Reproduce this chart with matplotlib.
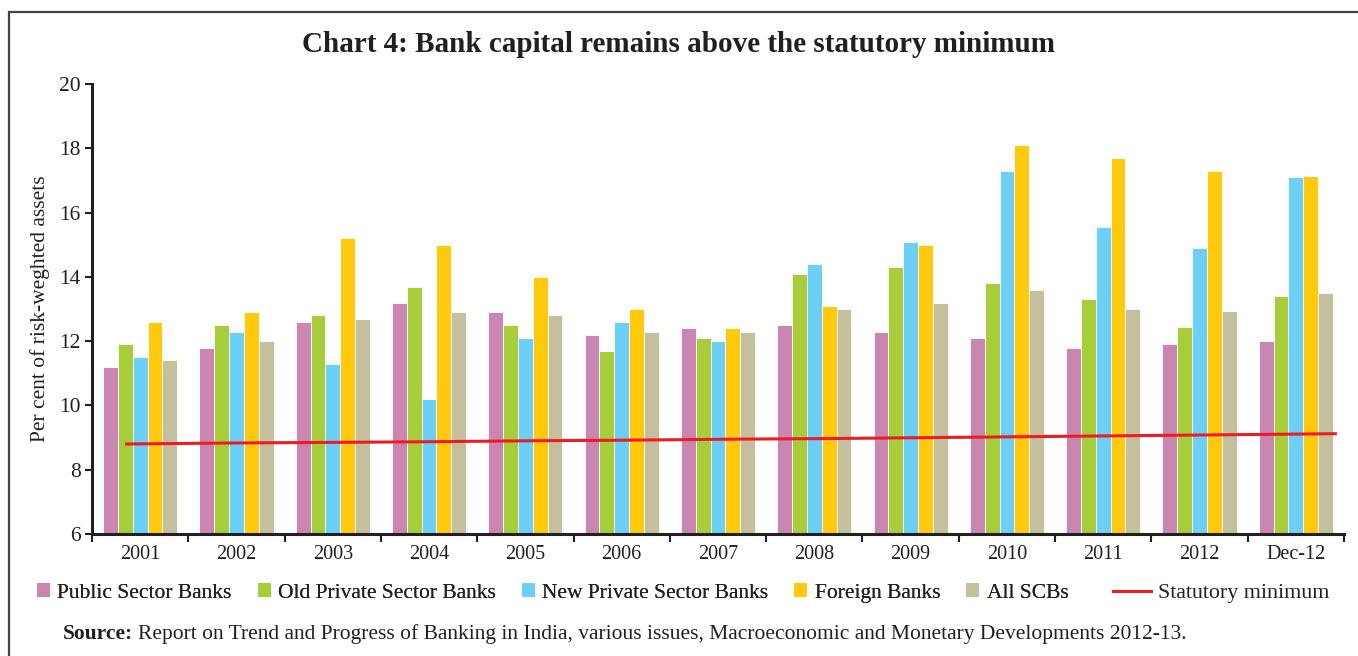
import numpy as np
import matplotlib
matplotlib.use('Agg')
import matplotlib.pyplot as plt
from matplotlib.patches import Rectangle, Patch
from matplotlib.lines import Line2D

# data
years = ['2001', '2002', '2003', '2004', '2005', '2006', '2007',
         '2008', '2009', '2010', '2011', '2012', 'Dec-12']
public_banks = [11.2, 11.8, 12.6, 13.2, 12.9, 12.2, 12.4, 12.5, 12.3, 12.1, 11.8, 11.9, 12.0]
old_private = [11.9, 12.5, 12.8, 13.7, 12.5, 11.7, 12.1, 14.1, 14.3, 13.8, 13.3, 12.45, 13.4]
new_private = [11.5, 12.3, 11.3, 10.2, 12.1, 12.6, 12.0, 14.4, 15.1, 17.3, 15.55, 14.9, 17.1]
foreign_banks = [12.6, 12.9, 15.2, 15.0, 14.0, 13.0, 12.4, 13.1, 15.0, 18.1, 17.7, 17.3, 17.15]
all_scbs = [11.4, 12.0, 12.7, 12.9, 12.8, 12.3, 12.3, 13.0, 13.2, 13.6, 13.0, 12.95, 13.5]
statutory_min = [8.80, 8.83, 8.85, 8.87, 8.90, 8.92, 8.95, 8.97, 9.00, 9.03, 9.06, 9.09, 9.12]

series_names = ['Public Sector Banks', 'Old Private Sector Banks', 'New Private Sector Banks',
                'Foreign Banks', 'All SCBs']
colors = ['#C886B0', '#A8CD3A', '#6BCFF6', '#FFC90E', '#C4BF9C']
line_color = '#ED1C24'
ink = '#231F20'

plt.rcParams['font.family'] = ['Liberation Serif', 'DejaVu Serif']

fig = plt.figure(figsize=(13.58, 6.56), dpi=100)
ax = fig.add_axes([92/1358, 122/656, 1252/1358, 450/656])

ind = np.arange(len(years))
width = 0.154
all_series = [public_banks, old_private, new_private, foreign_banks, all_scbs]
for i, vals in enumerate(all_series):
    ax.bar(ind + (i - 2) * width, np.array(vals) - 6, width, bottom=6,
           color=colors[i], edgecolor='white', linewidth=0.6, zorder=2)

# statutory line runs a bit offset from the category centres, like the original
line_x = np.linspace(-0.14, 12.41, len(years))
ax.plot(line_x, statutory_min, color=line_color, linewidth=2.2, zorder=3)

ax.set_xlim(-0.5, len(years) - 0.5)
ax.set_ylim(6, 20)
ax.set_yticks(np.arange(6, 21, 2))
ax.set_xticks(ind)
ax.set_xticklabels(years)
ax.set_xticks(np.arange(-0.5, len(years), 1), minor=True)
ax.tick_params(axis='x', which='major', length=0, pad=8, labelsize=14.5, labelcolor=ink)
ax.tick_params(axis='x', which='minor', length=6, width=1.5, color=ink, direction='out')
ax.tick_params(axis='y', length=5, width=1.5, color=ink, labelsize=15.5, labelcolor=ink, pad=3)
for s in ['top', 'right']:
    ax.spines[s].set_visible(False)
for s in ['left', 'bottom']:
    ax.spines[s].set_linewidth(2.2)
    ax.spines[s].set_color(ink)
ax.set_ylabel('Per cent of risk-weghted assets', fontsize=15.5, color=ink)
ax.yaxis.set_label_coords(-0.0336, 0.5)

fig.text(0.5, 1 - 44/656, 'Chart 4: Bank capital remains above the statutory minimum',
         ha='center', va='center', fontsize=21, fontweight='bold', color=ink)

# legend: bar squares on the left, the red line on its own to the right
bar_handles = [Patch(facecolor=c, edgecolor='none') for c in colors]
leg1 = fig.legend(bar_handles, series_names, loc='center left',
                  bbox_to_anchor=(37/1358, 1 - 593/656), ncol=5, frameon=False,
                  fontsize=15.5, handlelength=0.6, handleheight=0.6, handletextpad=0.35,
                  columnspacing=1.2, labelcolor=ink, borderpad=0, borderaxespad=0)
fig.add_artist(leg1)
line_handle = Line2D([0], [0], color=line_color, linewidth=2.2)
fig.legend([line_handle], ['Statutory minimum'], loc='center left',
           bbox_to_anchor=(1113/1358, 1 - 593/656), frameon=False, fontsize=15.8,
           handlelength=1.75, handletextpad=0.3, labelcolor=ink, borderpad=0, borderaxespad=0)

# source note: bold lead then regular text
src_y = 1 - 634/656
t1 = fig.text(63/1358, src_y, 'Source:', fontsize=15.5, fontweight='bold', color=ink, va='center')
fig.canvas.draw()
bb = t1.get_window_extent()
fig.text((bb.x1 + 5)/1358, src_y,
         'Report on Trend and Progress of Banking in India, various issues, '
         'Macroeconomic and Monetary Developments 2012-13.',
         fontsize=15.5, color=ink, va='center')

# frame around the chart box
fig.patches.append(Rectangle((9/1358, -0.05), 1.1, 1.05 - 12/656, transform=fig.transFigure,
                             fill=False, edgecolor='#444444', linewidth=1.6))

plt.savefig('out.png', dpi=100)
